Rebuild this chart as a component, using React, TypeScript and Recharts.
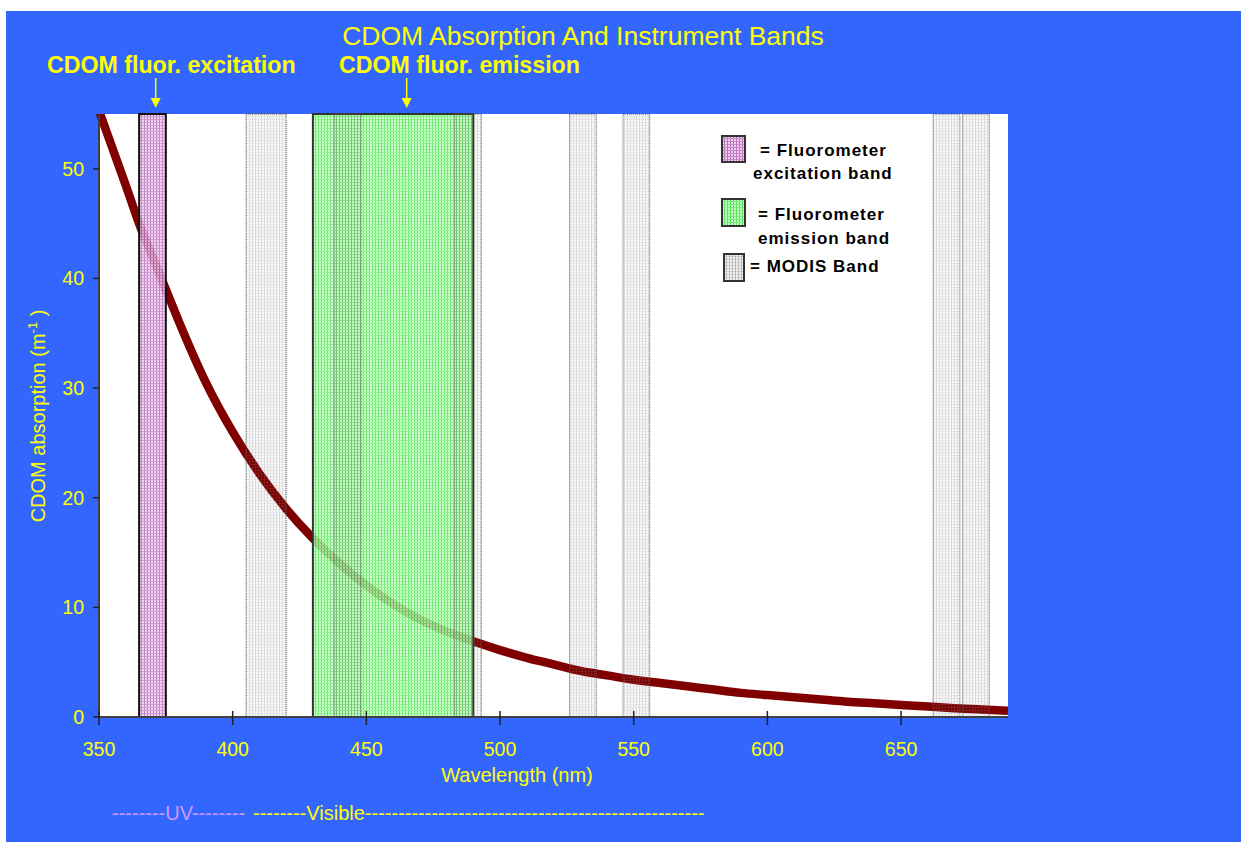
import {
  LineChart,
  Line,
  XAxis,
  YAxis,
  CartesianGrid,
  ReferenceArea,
} from 'recharts'

// CDOM absorption curve (nm, m^-1)
const wavelengths = [
  350, 360, 365, 370, 375, 380, 390, 400, 410, 420, 430, 440, 450, 460, 470,
  480, 490, 500, 510, 520, 530, 540, 550, 560, 570, 580, 590, 600, 610, 620,
  630, 640, 650, 660, 670, 680, 690,
]
const absorption = [
  55.3, 48.5, 45.0, 42.0, 39.0, 36.0, 30.5, 26.0, 22.2, 19.0, 16.3, 14.0, 12.0,
  10.3, 8.9, 7.8, 6.9, 6.1, 5.4, 4.8, 4.2, 3.8, 3.4, 3.1, 2.8, 2.5, 2.2, 2.0,
  1.8, 1.6, 1.4, 1.25, 1.1, 0.95, 0.8, 0.68, 0.57,
]

// instrument bands (nm)
const excitationBand = [365, 375]
const emissionBand = [430, 490]
const modisBands = [
  [405, 420],
  [438, 448],
  [483, 493],
  [526, 536],
  [546, 556],
  [662, 672],
  [673, 683],
]

const xTicks = [350, 400, 450, 500, 550, 600, 650]
const yTicks = [0, 10, 20, 30, 40, 50]

const data = wavelengths.map((w, i) => ({ w, a: absorption[i] }))

const FONT = '"Liberation Sans", Arial, sans-serif'
const YELLOW = '#FFFF00'
const BLUE = '#3366FF'

const Patterns = ({ suffix = '' }: { suffix?: string }) => (
  <defs>
    <pattern id={`pExc${suffix}`} width="3" height="3" patternUnits="userSpaceOnUse">
      <rect width="3" height="3" fill="#EFCFEF" />
      <rect width="1" height="3" fill="#B868B8" />
      <rect width="3" height="1" fill="#C98AC9" />
    </pattern>
    <pattern id={`pEmi${suffix}`} width="3" height="3" patternUnits="userSpaceOnUse">
      <rect width="3" height="3" fill="#C8FFC8" />
      <rect width="1" height="3" fill="#4CE24C" />
      <rect width="3" height="1" fill="#7CEE7C" />
    </pattern>
    <pattern id={`pModis${suffix}`} width="3" height="3" patternUnits="userSpaceOnUse">
      <rect width="3" height="3" fill="#000" fillOpacity="0.06" />
      <rect width="1" height="3" fill="#707070" fillOpacity="0.4" />
      <rect width="3" height="1" fill="#909090" fillOpacity="0.3" />
    </pattern>
  </defs>
)

const XTick = (props: any) => {
  const { x, y, payload } = props
  return (
    <g>
      <line x1={x} x2={x} y1={y - 6} y2={y + 8} stroke="#222" strokeWidth={1.5} />
      <text x={x} y={y + 39} textAnchor="middle" fill={YELLOW} fontSize={19.5} fontFamily={FONT}>
        {payload.value}
      </text>
    </g>
  )
}

const Swatch = ({ id, x, y, w, h }: { id: string; x: number; y: number; w: number; h: number }) => (
  <svg style={{ position: 'absolute', left: x, top: y }} width={w} height={h}>
    <Patterns suffix={`-${id}`} />
    <rect
      x={1}
      y={1}
      width={w - 2}
      height={h - 2}
      fill={`url(#${id}-${id})`}
      stroke="#333"
      strokeWidth={2}
    />
  </svg>
)

export default function App() {
  return (
    <div
      style={{
        position: 'absolute',
        left: 6,
        top: 11,
        width: 1235,
        height: 831,
        background: BLUE,
        fontFamily: FONT,
      }}
    >
      <LineChart
        width={1235}
        height={831}
        data={data}
        margin={{ top: 103, right: 233, bottom: 75, left: 33 }}
      >
        <Patterns />
        <CartesianGrid fill="#FFFFFF" horizontal={false} vertical={false} />
        <XAxis
          dataKey="w"
          type="number"
          domain={[350, 690]}
          ticks={xTicks}
          height={50}
          tickSize={0}
          tickMargin={0}
          tick={<XTick />}
          axisLine={{ stroke: '#404040', strokeWidth: 2 }}
          tickLine={false}
        />
        <XAxis
          xAxisId="top"
          orientation="top"
          type="number"
          domain={[350, 690]}
          height={0}
          tick={false}
          tickLine={false}
          axisLine={{ stroke: '#808080', strokeWidth: 2 }}
        />
        <YAxis
          type="number"
          domain={[0, 55]}
          allowDataOverflow
          ticks={yTicks}
          width={60}
          tickSize={6}
          tickMargin={9}
          tick={{ fill: YELLOW, fontSize: 19.5, fontFamily: FONT }}
          tickLine={{ stroke: '#222', strokeWidth: 1.5 }}
          axisLine={{ stroke: '#404040', strokeWidth: 2 }}
        />
        <YAxis
          yAxisId="right"
          orientation="right"
          domain={[0, 55]}
          width={0}
          tick={false}
          tickLine={false}
          axisLine={{ stroke: '#808080', strokeWidth: 2 }}
        />
        <Line
          type="monotone"
          dataKey="a"
          stroke="#800000"
          strokeWidth={8.5}
          dot={false}
          isAnimationActive={false}
        />
        <ReferenceArea
          x1={excitationBand[0]}
          x2={excitationBand[1]}
          y1={0}
          y2={55}
          fill="url(#pExc)"
          fillOpacity={0.85}
          stroke="#111"
          strokeWidth={2}
          zIndex={450}
        />
        <ReferenceArea
          x1={emissionBand[0]}
          x2={emissionBand[1]}
          y1={0}
          y2={55}
          fill="url(#pEmi)"
          fillOpacity={0.85}
          stroke="#2A3A2A"
          strokeWidth={2}
          zIndex={450}
        />
        {modisBands.map(([a, b]) => (
          <ReferenceArea
            key={`modis-${a}`}
            x1={a}
            x2={b}
            y1={0}
            y2={55}
            fill="url(#pModis)"
            stroke="#555"
            strokeWidth={1}
            strokeDasharray="1 1"
            zIndex={460}
          />
        ))}
      </LineChart>

      <svg
        style={{ position: 'absolute', left: 0, top: 0, pointerEvents: 'none' }}
        width={1235}
        height={831}
      >
        <text x={577} y={34} textAnchor="middle" fill={YELLOW} fontSize={26.5} fontFamily={FONT}>
          CDOM Absorption And Instrument Bands
        </text>
        <text x={41} y={62} fill={YELLOW} fontSize={23.2} fontWeight="bold" fontFamily={FONT}>
          CDOM fluor. excitation
        </text>
        <text x={333} y={62} fill={YELLOW} fontSize={23.2} fontWeight="bold" fontFamily={FONT}>
          CDOM fluor. emission
        </text>
        {[149.7, 400.7].map((ax) => (
          <g key={ax}>
            <line x1={ax} x2={ax} y1={67} y2={88} stroke={YELLOW} strokeWidth={1.5} />
            <polygon points={`${ax - 5},87 ${ax + 5},87 ${ax},97`} fill={YELLOW} />
          </g>
        ))}
        <text
          transform="translate(39,405) rotate(-90)"
          textAnchor="middle"
          fill={YELLOW}
          fontSize={20}
          fontFamily={FONT}
        >
          CDOM absorption (m
          <tspan fontSize={13} dy={-8}>-1</tspan>
          <tspan dy={8}> )</tspan>
        </text>
        <text x={511} y={771} textAnchor="middle" fill={YELLOW} fontSize={20} fontFamily={FONT}>
          Wavelength (nm)
        </text>
        <text x={106} y={809} fill="#CC99FF" fontSize={20} fontFamily={FONT}>
          --------UV--------
        </text>
        <text x={247} y={809} fill={YELLOW} fontSize={20} fontFamily={FONT}>
          --------Visible---------------------------------------------------
        </text>

        <g fontFamily={FONT} fontWeight="bold" fontSize={17} fill="#000" letterSpacing={1}>
          <text x={754} y={145}>=  Fluorometer</text>
          <text x={747} y={168}>excitation band</text>
          <text x={752} y={209}>=  Fluorometer</text>
          <text x={752} y={233}>emission band</text>
          <text x={744} y={261}>= MODIS Band</text>
        </g>
      </svg>

      <Swatch id="pExc" x={715} y={124} w={25} h={28} />
      <Swatch id="pEmi" x={715} y={187} w={25} h={29} />
      <Swatch id="pModis" x={717} y={242} w={22} h={29} />
    </div>
  )
}
